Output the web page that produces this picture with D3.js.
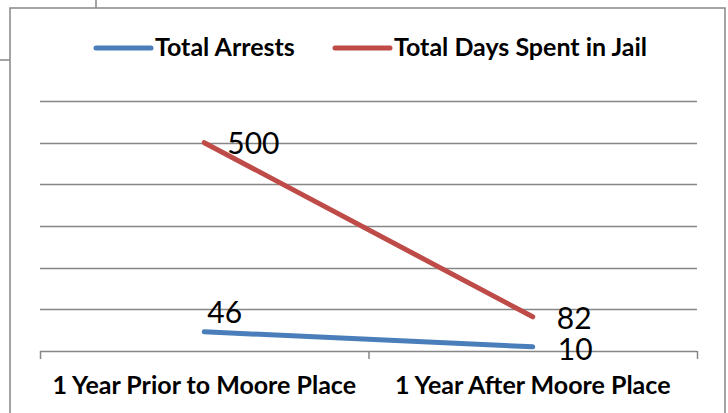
<!DOCTYPE html>
<html>
<head>
<meta charset="utf-8">
<script src="https://cdn.jsdelivr.net/npm/d3@7"></script>
<style>
  body { margin: 0; background: #fff; }
  svg { display: block; font-family: Lato, "Open Sans", sans-serif; }
</style>
</head>
<body>
<svg id="chart" width="728" height="413"></svg>
<script>
// data
const categories = ["1 Year Prior to Moore Place", "1 Year After Moore Place"]
const seriesNames = ["Total Arrests", "Total Days Spent in Jail"]
const totalArrests = [46, 10]
const totalDaysJail = [500, 82]
const yTicks = [0, 100, 200, 300, 400, 500, 600]

const colors = ["#4a7ebb", "#be4b48"]
// label offsets from the point (dx, dy), per series / per point
const labelOffsets = [
  [[3, -9], [25, 13]],
  [[23, 11], [24, 12]],
]

const svg = d3.select("#chart")
const gray = "#868686"

// document borders around the chart
svg.append("line").attr("x1", 96).attr("x2", 96).attr("y1", 0).attr("y2", 8)
  .attr("stroke", gray).attr("stroke-width", 1.5)
svg.append("line").attr("x1", 0).attr("x2", 10).attr("y1", 60).attr("y2", 60)
  .attr("stroke", gray).attr("stroke-width", 1.5)

// chart box
svg.append("rect")
  .attr("x", 10).attr("y", 8).attr("width", 715).attr("height", 430)
  .attr("fill", "#fff").attr("stroke", gray).attr("stroke-width", 1.5)

//scales
const x = d3.scaleBand().domain(categories).range([40, 697]).padding(0)
const y = d3.scaleLinear().domain([0, 600]).range([351, 101])

//gridlines
svg.append("g")
  .selectAll("line")
  .data(yTicks.slice(1))
  .join("line")
  .attr("x1", 40).attr("x2", 697)
  .attr("y1", (d) => Math.round(y(d)) + 0.5)
  .attr("y2", (d) => Math.round(y(d)) + 0.5)
  .attr("stroke", gray).attr("stroke-width", 1.3)

//x axis
const xAxis = svg.append("g")
xAxis.append("line")
  .attr("x1", 40).attr("x2", 697)
  .attr("y1", y(0) + 0.5).attr("y2", y(0) + 0.5)
  .attr("stroke", gray).attr("stroke-width", 1.5)

const tickPos = categories.map((c) => x(c)).concat([x.range()[1]])
xAxis.selectAll("line.tick")
  .data(tickPos)
  .join("line")
  .attr("class", "tick")
  .attr("x1", (d) => d + 0.5).attr("x2", (d) => d + 0.5)
  .attr("y1", y(0)).attr("y2", y(0) + 8)
  .attr("stroke", gray).attr("stroke-width", 1.5)

xAxis.selectAll("text")
  .data(categories)
  .join("text")
  .attr("x", (d) => x(d) + x.bandwidth() / 2)
  .attr("y", 394)
  .attr("text-anchor", "middle")
  .attr("font-weight", "bold")
  .attr("font-size", 25)
  .attr("fill", "#000")
  .text((d) => d)

//lines
const series = [totalArrests, totalDaysJail]
const line = d3.line()
  .x((d, i) => x(categories[i]) + x.bandwidth() / 2)
  .y((d) => y(d))

series.forEach((values, s) => {
  svg.append("path")
    .datum(values)
    .attr("d", line)
    .attr("fill", "none")
    .attr("stroke", colors[s])
    .attr("stroke-width", 5)
    .attr("stroke-linecap", "round")
})

//data labels
series.forEach((values, s) => {
  svg.append("g")
    .selectAll("text")
    .data(values)
    .join("text")
    .attr("x", (d, i) => x(categories[i]) + x.bandwidth() / 2 + labelOffsets[s][i][0])
    .attr("y", (d, i) => y(d) + labelOffsets[s][i][1])
    .attr("font-size", 30)
    .attr("fill", "#000")
    .text((d) => d)
})

//legend
const legendX = [96, 335]
const legend = svg.append("g")
seriesNames.forEach((name, s) => {
  legend.append("line")
    .attr("x1", legendX[s]).attr("x2", legendX[s] + 55)
    .attr("y1", 48).attr("y2", 48)
    .attr("stroke", colors[s]).attr("stroke-width", 5)
    .attr("stroke-linecap", "round")
  legend.append("text")
    .attr("x", legendX[s] + 59)
    .attr("y", 56)
    .attr("font-weight", "bold")
    .attr("font-size", 25)
    .attr("fill", "#000")
    .text(name)
})
</script>
</body>
</html>
